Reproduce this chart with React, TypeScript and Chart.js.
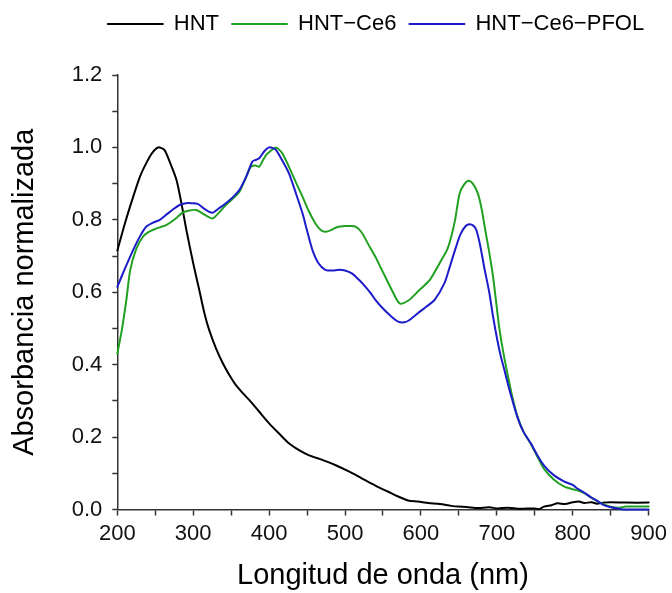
import { useEffect, useRef } from 'react';
import { Chart, registerables } from 'chart.js';

Chart.register(...registerables);

// ---- Data ----
const seriesLabels = ['HNT', 'HNT−Ce6', 'HNT−Ce6−PFOL'];

const hntWavelength = [
  200, 210, 221, 230, 238, 246, 254, 262, 270, 278, 285, 291, 300, 308, 315, 321, 330, 339, 348, 356,
  365, 374, 387, 400, 413, 426, 440, 452, 470, 487, 505, 522, 540, 557, 570, 583, 596, 610, 625, 640,
  649, 660, 675, 690, 701, 715, 730, 749, 756, 762, 772, 780, 790, 800, 808, 815, 825, 832, 840, 850,
  870, 900,
];
const hntValues = [
  0.715, 0.79, 0.864, 0.92, 0.956, 0.985, 1.0, 0.993, 0.955, 0.91, 0.84, 0.772, 0.68, 0.606, 0.54, 0.496,
  0.445, 0.404, 0.37, 0.344, 0.322, 0.302, 0.27, 0.238, 0.21, 0.183, 0.163, 0.15, 0.137, 0.123, 0.105,
  0.086, 0.066, 0.049, 0.036, 0.025, 0.022, 0.018, 0.015, 0.01, 0.008, 0.007, 0.004, 0.006, 0.003, 0.005,
  0.002, 0.003, 0.001, 0.008, 0.012, 0.017, 0.015, 0.02, 0.022, 0.018, 0.02, 0.016, 0.019, 0.02, 0.019,
  0.019,
];

const ce6Wavelength = [
  200, 206, 212, 217, 225, 234, 241, 249, 257, 265, 275, 286, 295, 304, 312, 320, 326, 334, 343, 352,
  361, 368, 376, 382, 387, 392, 396, 402, 409, 417, 426, 435, 444, 452, 461, 468, 474, 482, 490, 500,
  507, 514, 522, 530, 540, 547, 553, 562, 572, 584, 596, 612, 627, 635, 640, 645, 651, 657, 663, 669,
  675, 680, 684, 690, 695, 699, 703, 708, 714, 720, 727, 735, 745, 752, 762, 775, 789, 800, 806, 815,
  823, 832, 841, 850, 860, 870, 900,
];
const ce6Values = [
  0.43, 0.496, 0.58, 0.661, 0.72, 0.754, 0.766, 0.774, 0.78, 0.786, 0.8, 0.82, 0.826, 0.827, 0.818, 0.808,
  0.804, 0.82, 0.841, 0.858, 0.878, 0.91, 0.947, 0.95, 0.947, 0.965, 0.979, 0.99, 1.0, 0.985, 0.947, 0.905,
  0.864, 0.825, 0.79, 0.772, 0.767, 0.772, 0.78, 0.783, 0.783, 0.781, 0.765, 0.735, 0.698, 0.668, 0.643,
  0.605, 0.569, 0.578, 0.602, 0.635, 0.689, 0.72, 0.754, 0.8, 0.873, 0.898, 0.908, 0.898, 0.873, 0.83,
  0.781, 0.71, 0.643, 0.575, 0.505, 0.44, 0.375, 0.315, 0.258, 0.215, 0.18, 0.152, 0.113, 0.083, 0.063,
  0.056, 0.053, 0.045, 0.035, 0.024, 0.014, 0.008, 0.005, 0.008, 0.008,
];

const pfolWavelength = [
  200, 210, 221, 230, 238, 247, 256, 265, 274, 282, 290, 298, 306, 315, 321, 326, 334, 343, 352, 361,
  370, 378, 383, 387, 394, 400, 405, 409, 417, 426, 435, 444, 450, 457, 465, 474, 483, 492, 500, 509,
  518, 527, 534, 540, 550, 560, 570, 578, 584, 596, 607, 618, 631, 638, 645, 652, 659, 664, 669, 673,
  678, 684, 690, 695, 700, 705, 710, 715, 720, 727, 735, 745, 752, 762, 775, 789, 800, 806, 815, 823,
  832, 841, 850, 860, 867, 900,
];
const pfolValues = [
  0.615, 0.665, 0.717, 0.755, 0.781, 0.792, 0.8, 0.815, 0.83, 0.841, 0.846, 0.846, 0.844, 0.83, 0.822,
  0.82, 0.832, 0.846, 0.862, 0.883, 0.92, 0.961, 0.966, 0.97, 0.99, 1.0, 0.998, 0.993, 0.965, 0.929,
  0.875, 0.818, 0.77, 0.717, 0.68, 0.662, 0.66, 0.662, 0.66, 0.652, 0.635, 0.615, 0.597, 0.579, 0.555,
  0.535, 0.519, 0.517, 0.522, 0.542, 0.56, 0.579, 0.625, 0.67, 0.717, 0.76, 0.783, 0.788, 0.784, 0.772,
  0.73, 0.662, 0.6, 0.533, 0.475, 0.425, 0.385, 0.343, 0.305, 0.256, 0.215, 0.182, 0.155, 0.122, 0.095,
  0.077, 0.068, 0.058, 0.047, 0.035, 0.024, 0.012, 0.006, 0.002, 0.0, 0.0,
];

const xMin = 200;
const xMax = 900;
const yMin = 0;
const yMax = 1.2;

const seriesColors = ['#000000', '#22A022', '#1C1CC8'];

function toPoints(xs: number[], ys: number[]) {
  return xs.map((x, i) => ({ x, y: ys[i] }));
}

export default function App() {
  const canvasRef = useRef<HTMLCanvasElement | null>(null);

  useEffect(() => {
    if (!canvasRef.current) return;
    Chart.defaults.font.family = "'Liberation Sans', Arial, sans-serif";
    const chart = new Chart(canvasRef.current, {
      type: 'line',
      data: {
        datasets: [
          {
            label: seriesLabels[0],
            data: toPoints(hntWavelength, hntValues),
            borderColor: seriesColors[0],
            backgroundColor: seriesColors[0],
            borderWidth: 2,
            order: 2,
          },
          {
            label: seriesLabels[1],
            data: toPoints(ce6Wavelength, ce6Values),
            borderColor: seriesColors[1],
            backgroundColor: seriesColors[1],
            borderWidth: 2,
            order: 1,
          },
          {
            label: seriesLabels[2],
            data: toPoints(pfolWavelength, pfolValues),
            borderColor: seriesColors[2],
            backgroundColor: seriesColors[2],
            borderWidth: 2,
            order: 0,
          },
        ],
      },
      options: {
        responsive: false,
        animation: false,
        layout: { padding: { left: 70, right: -10, top: 0, bottom: 0 } },
        elements: {
          point: { radius: 0, hoverRadius: 0 },
          line: { tension: 0.25, borderCapStyle: 'round', borderJoinStyle: 'round' },
        },
        datasets: { line: { clip: 4 } } as any,
        plugins: {
          legend: {
            display: true,
            position: 'top',
            align: 'center',
            weight: 3000,
            labels: {
              boxWidth: 55,
              boxHeight: 0,
              padding: 13,
              color: '#000',
              font: { size: 22 },
              sort: (a: any, b: any) => a.datasetIndex - b.datasetIndex,
            },
          },
          title: {
            display: true,
            text: '',
            padding: { top: 0, bottom: 20 },
            font: { size: 10, lineHeight: 1 },
          },
          tooltip: { enabled: false },
        },
        scales: {
          x: {
            type: 'linear',
            min: xMin,
            max: xMax,
            afterFit: (s: any) => {
              s.height = 83.5;
            },
            border: { display: true, color: '#333', width: 1.5 },
            grid: {
              display: true,
              drawOnChartArea: false,
              drawTicks: true,
              tickLength: 6,
              tickColor: '#333',
              tickWidth: 1.5,
            },
            ticks: {
              stepSize: 50,
              autoSkip: false,
              maxRotation: 0,
              padding: 5,
              color: '#111',
              font: { size: 22 },
              callback: (v: any) => (Math.round(Number(v)) % 100 === 0 ? String(Math.round(Number(v))) : ''),
            },
            title: {
              display: true,
              text: 'Longitud de onda (nm)',
              color: '#000',
              font: { size: 29 },
              padding: { top: 0, bottom: 0 },
            },
          },
          y: {
            type: 'linear',
            position: 'left',
            min: yMin,
            max: yMax,
            afterFit: (s: any) => {
              s.width = 47.3;
            },
            border: { display: true, color: '#333', width: 1.5 },
            grid: {
              display: true,
              drawOnChartArea: false,
              drawTicks: true,
              tickLength: 5,
              tickColor: '#333',
              tickWidth: 1.5,
            },
            ticks: {
              stepSize: 0.1,
              autoSkip: false,
              padding: 10,
              color: '#111',
              font: { size: 22 },
              callback: (v: any) => {
                const k = Math.round(Number(v) * 10);
                return k % 2 === 0 ? (k / 10).toFixed(1) : '';
              },
            },
            title: {
              display: true,
              text: 'Absorbancia normalizada',
              color: '#000',
              font: { size: 29 },
              padding: { top: -62.5, bottom: 0 },
            },
          },
          // empty right-hand spacer axis: keeps the plot's right edge at the reference position
          ySpacer: {
            type: 'linear',
            position: 'right',
            display: true,
            afterFit: (s: any) => {
              s.width = 32;
            },
            grid: { display: false },
            border: { display: false },
            ticks: { display: false },
          },
        },
      },
    });
    return () => chart.destroy();
  }, []);

  return (
    <div style={{ position: 'absolute', left: 0, top: 0, width: 672, height: 593 }}>
      <canvas ref={canvasRef} width={672} height={593} />
    </div>
  );
}
